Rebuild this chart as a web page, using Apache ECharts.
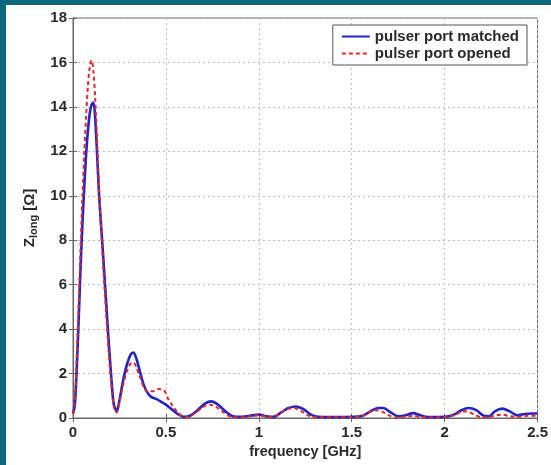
<!DOCTYPE html>
<html><head><meta charset="utf-8">
<script src="https://cdn.jsdelivr.net/npm/echarts@6/dist/echarts.min.js"></script>
<style>
html,body{margin:0;padding:0;background:#0b687e;width:551px;height:465px;overflow:hidden;}
#c{position:absolute;left:6px;top:5px;width:545px;height:460px;background:#fff;}
</style></head><body><div id="c"></div>
<script>
var xTicks = [0, 0.5, 1, 1.5, 2, 2.5];
var yTicks = [0, 2, 4, 6, 8, 10, 12, 14, 16, 18];
var seriesNames = ['pulser port matched', 'pulser port opened'];
var matchedF = [0,0.01,0.02,0.03,0.04,0.05,0.06,0.07,0.08,0.09,0.10,0.11,0.12,0.13,0.14,0.15,0.16,0.17,0.18,0.19,0.20,0.21,0.22,0.235,0.25,0.27,0.29,0.31,0.325,0.34,0.36,0.38,0.40,0.42,0.45,0.48,0.50,0.53,0.56,0.60,0.63,0.67,0.71,0.745,0.78,0.82,0.86,0.90,0.95,1.00,1.04,1.08,1.12,1.16,1.20,1.24,1.28,1.32,1.40,1.50,1.56,1.60,1.64,1.67,1.71,1.75,1.79,1.83,1.87,1.91,2.00,2.05,2.09,2.13,2.17,2.21,2.24,2.27,2.31,2.35,2.39,2.43,2.47,2.5];
var matchedZ = [0.2,0.6,2.2,4.3,6.6,8.6,10.3,11.8,12.9,13.7,14.1,14.2,13.4,11.8,10.1,8.8,7.6,6.3,5.0,3.7,2.5,1.4,0.6,0.3,0.8,1.7,2.4,2.85,2.95,2.7,2.1,1.5,1.15,0.95,0.85,0.7,0.6,0.4,0.2,0.05,0.1,0.35,0.65,0.75,0.6,0.3,0.08,0.05,0.1,0.15,0.08,0.05,0.25,0.45,0.52,0.4,0.15,0.05,0.04,0.05,0.1,0.3,0.45,0.45,0.25,0.08,0.12,0.22,0.12,0.04,0.05,0.15,0.35,0.45,0.35,0.1,0.08,0.3,0.42,0.3,0.12,0.18,0.2,0.2];
var openedF = [0,0.01,0.02,0.03,0.04,0.05,0.06,0.07,0.08,0.09,0.10,0.11,0.12,0.13,0.14,0.15,0.16,0.17,0.18,0.19,0.20,0.21,0.22,0.235,0.25,0.27,0.29,0.31,0.325,0.34,0.36,0.38,0.40,0.43,0.46,0.49,0.51,0.54,0.57,0.60,0.63,0.67,0.71,0.74,0.77,0.81,0.85,0.90,0.95,1.00,1.04,1.08,1.12,1.16,1.19,1.23,1.27,1.32,1.40,1.50,1.56,1.60,1.63,1.66,1.70,1.74,1.79,1.83,1.87,1.91,2.00,2.05,2.09,2.12,2.16,2.20,2.24,2.28,2.31,2.35,2.39,2.45,2.5];
var openedZ = [0.2,0.8,2.8,5.0,7.5,9.8,11.8,13.5,14.9,15.8,16.1,15.6,14.3,12.4,10.4,8.7,7.2,5.8,4.5,3.2,2.1,1.2,0.5,0.25,0.7,1.5,2.1,2.45,2.5,2.3,1.85,1.4,1.2,1.2,1.3,1.25,0.9,0.5,0.2,0.03,0.08,0.3,0.55,0.6,0.5,0.25,0.05,0.03,0.08,0.12,0.06,0.05,0.25,0.42,0.45,0.3,0.1,0.03,0.03,0.04,0.1,0.28,0.35,0.3,0.12,0.03,0.06,0.1,0.05,0.02,0.04,0.12,0.28,0.3,0.15,0.03,0.05,0.12,0.15,0.08,0.05,0.1,0.1];

function pairs(f, z){ return f.map(function(v,i){ return [v, z[i]]; }); }
var font = 'Liberation Sans, Arial, sans-serif';
var txt = '#2a2a2a';
var gridLine = {show:true, lineStyle:{color:'#bdbdbd', type:[2,3], width:1}};
var chart = echarts.init(document.getElementById('c'));
chart.setOption({
  animation:false,
  textStyle:{fontFamily:font},
  grid:{left:67, right:11, top:13, bottom:47, show:true, borderColor:'#666', borderWidth:1},
  legend:{
    orient:'vertical', right:24, top:20, data:seriesNames,
    backgroundColor:'#fff', borderColor:'#555', borderWidth:1, borderRadius:0,
    padding:[4,8,4,8], itemWidth:28, itemHeight:14, itemGap:2,
    itemStyle:{opacity:0},
    textStyle:{fontSize:15, fontWeight:'bold', color:txt, fontFamily:font}
  },
  xAxis:[{
    type:'value', min:xTicks[0], max:xTicks[xTicks.length-1], interval:0.5,
    name:'frequency [GHz]', nameLocation:'middle', nameGap:22,
    nameTextStyle:{fontSize:14.5, fontWeight:'bold', color:txt},
    axisLine:{show:true, lineStyle:{color:'#666'}},
    axisTick:{show:true, inside:true, length:4, lineStyle:{color:'#666'}},
    axisLabel:{fontSize:15, fontWeight:'bold', color:txt, margin:7},
    splitLine:gridLine
  },{
    type:'value', position:'top', min:xTicks[0], max:xTicks[xTicks.length-1], interval:0.5,
    axisLine:{show:true, lineStyle:{color:'#666'}},
    axisTick:{show:true, inside:true, length:4, lineStyle:{color:'#666'}},
    axisLabel:{show:false}, splitLine:{show:false}
  }],
  yAxis:[{
    type:'value', min:yTicks[0], max:yTicks[yTicks.length-1], interval:2,
    name:'{z|Z}{s|long}{z| [Ω]}', nameLocation:'middle', nameGap:31, nameRotate:90,
    nameTextStyle:{color:txt, rich:{z:{fontSize:15, fontWeight:'bold', color:txt, fontFamily:font}, s:{fontSize:11, fontWeight:'bold', color:txt, fontFamily:font, padding:[8,0,0,0]}}},
    axisLine:{show:true, lineStyle:{color:'#666'}},
    axisTick:{show:true, inside:true, length:4, lineStyle:{color:'#666'}},
    axisLabel:{fontSize:15, fontWeight:'bold', color:txt, margin:6},
    splitLine:gridLine
  },{
    type:'value', position:'right', min:yTicks[0], max:yTicks[yTicks.length-1], interval:2,
    axisLine:{show:true, lineStyle:{color:'#666'}},
    axisTick:{show:true, inside:true, length:4, lineStyle:{color:'#666'}},
    axisLabel:{show:false}, splitLine:{show:false}
  }],
  series:[{
    name:seriesNames[0], type:'line', data:pairs(matchedF, matchedZ), smooth:0.3,
    showSymbol:false, symbol:'none', color:'#2323c8',
    lineStyle:{color:'#2323c8', width:2.6}
  },{
    name:seriesNames[1], type:'line', data:pairs(openedF, openedZ), smooth:0.3,
    showSymbol:false, symbol:'none', color:'#e0282a',
    lineStyle:{color:'#e0282a', width:2, type:[4,3]}
  }]
});
</script></body></html>
